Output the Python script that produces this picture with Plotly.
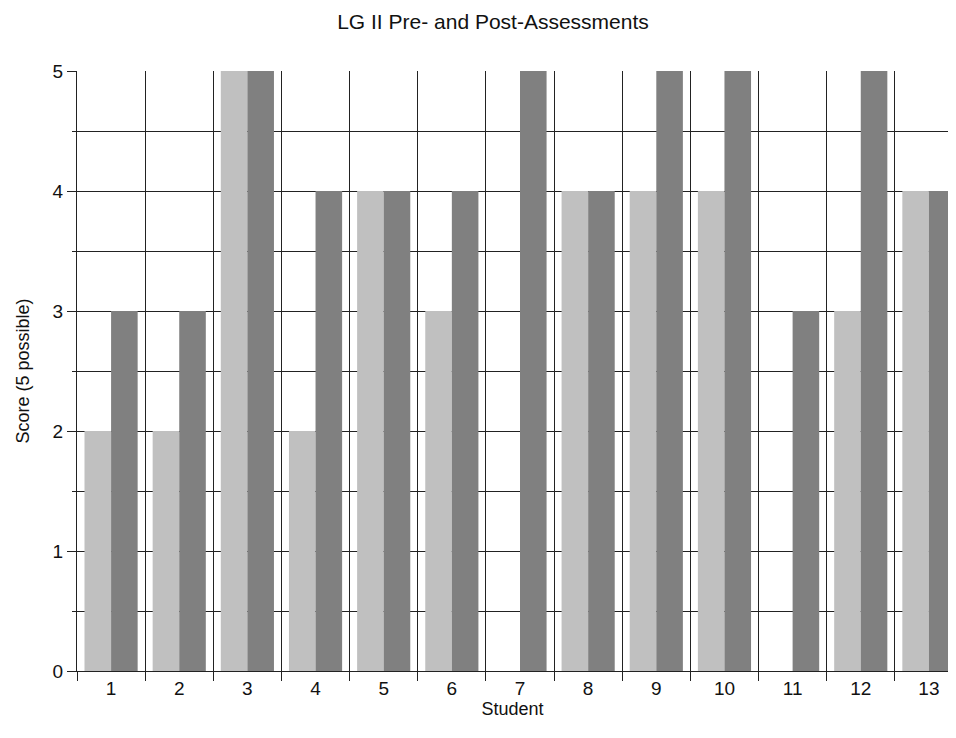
import plotly.graph_objects as go

students = ["1", "2", "3", "4", "5", "6", "7", "8", "9", "10", "11", "12", "13"]
pre_scores = [2, 2, 5, 2, 4, 3, 0, 4, 4, 4, 0, 3, 4]
post_scores = [3, 3, 5, 4, 4, 4, 5, 4, 5, 5, 3, 5, 4]
y_ticks = [0, 1, 2, 3, 4, 5]

FONT = "Liberation Sans, Arial, sans-serif"
GRID = "#222222"
TXT = "#111111"

# page body has an 8px margin; figure sized/margined to compensate
fig = go.Figure()
fig.add_trace(go.Bar(x=students, y=pre_scores, name="Pre", marker=dict(color="#C0C0C0", line=dict(width=0))))
fig.add_trace(go.Bar(x=students, y=post_scores, name="Post", marker=dict(color="#808080", line=dict(width=0))))

fig.update_layout(
    width=940, height=722,
    margin=dict(l=69, r=0, t=63, b=59),
    paper_bgcolor="white", plot_bgcolor="white",
    barmode="group", bargap=0.22, bargroupgap=0,
    showlegend=False,
    font=dict(family=FONT, size=19, color=TXT),
    title=dict(text="LG II Pre- and Post-Assessments", x=485/940, xref="container", xanchor="center",
               y=1 - 6/722, yref="container", yanchor="top",
               font=dict(family=FONT, size=21, color=TXT)),
    xaxis=dict(
        type="category", range=[-0.5, 12.28],
        tickson="boundaries", ticks="outside", ticklen=9, tickwidth=1, tickcolor=GRID,
        showgrid=True, gridcolor=GRID, gridwidth=1,
        showline=True, linecolor=GRID, linewidth=1,
        tickfont=dict(family=FONT, size=19, color=TXT),
        title=dict(text="Student", standoff=0, font=dict(family=FONT, size=18, color=TXT)),
        zeroline=False,
    ),
    yaxis=dict(
        range=[0, 5], tickvals=y_ticks,
        ticks="outside", ticklen=9, tickwidth=1, tickcolor=GRID,
        showgrid=True, gridcolor=GRID, gridwidth=1,
        showline=True, linecolor=GRID, linewidth=1,
        minor=dict(dtick=0.5, showgrid=True, gridcolor=GRID, gridwidth=1, ticks="outside", ticklen=4, tickcolor=GRID),
        tickfont=dict(family=FONT, size=19, color=TXT),
        title=dict(text="Score (5 possible)", standoff=18, font=dict(family=FONT, size=18, color=TXT)),
        zeroline=False,
    ),
)

fig.write_html("out.html")
